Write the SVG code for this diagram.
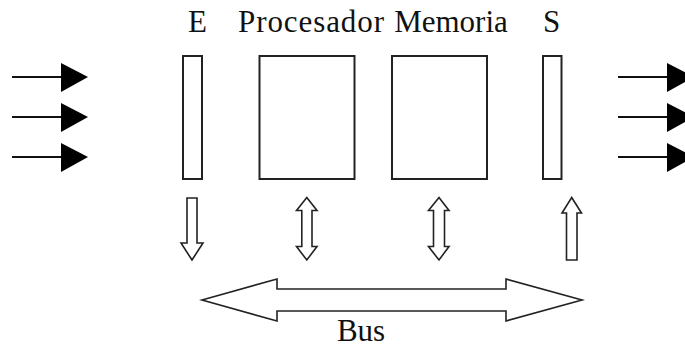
<svg xmlns="http://www.w3.org/2000/svg" width="685" height="347" viewBox="0 0 685 347">
  <style>
    .lbl { font-size: 31px; fill: #111; }
    .box { fill: #fff; stroke: #222; stroke-width: 2; }
    .hollow { fill: #fff; stroke: #222; stroke-width: 1.6; stroke-linejoin: miter; }
    .wire { stroke: #111; stroke-width: 2; fill: none; }
    .head { fill: #000; }
  </style>
  <defs>
    <!-- black input/output arrow: shaft plus filled triangular head -->
    <g id="ioArrow">
      <line class="wire" x1="0" y1="0" x2="50" y2="0"/>
      <polygon class="head" points="49,-14 76,0 49,15"/>
    </g>
  </defs>

  <rect width="685" height="347" fill="#fff"/>

  <!-- inputs on the left -->
  <g id="inputs">
    <use href="#ioArrow" x="12" y="77"/>
    <use href="#ioArrow" x="12" y="117"/>
    <use href="#ioArrow" x="12" y="157"/>
  </g>

  <!-- outputs on the right -->
  <g id="outputs">
    <use href="#ioArrow" x="618" y="77"/>
    <use href="#ioArrow" x="618" y="117"/>
    <use href="#ioArrow" x="618" y="157"/>
  </g>

  <g font-family="'Liberation Serif', 'DejaVu Serif', serif">
    <g id="entrada">
      <rect class="box" x="183" y="56" width="19" height="123"/>
      <text class="lbl" x="188" y="32">E</text>
    </g>

    <g id="procesador">
      <rect class="box" x="259.5" y="56" width="95" height="123"/>
      <text class="lbl" x="238" y="32" textLength="146" lengthAdjust="spacing">Procesador</text>
    </g>

    <g id="memoria">
      <rect class="box" x="392" y="56" width="95" height="123"/>
      <text class="lbl" x="451" y="32" text-anchor="middle">Memoria</text>
    </g>

    <g id="salida">
      <rect class="box" x="543" y="56" width="18.5" height="123"/>
      <text class="lbl" x="543" y="32">S</text>
    </g>

    <g id="bus">
      <polygon class="hollow" points="202,300 277,279 277,289 506,289 506,279 582,300 506,321 506,311 277,311 277,321"/>
      <text class="lbl" x="361" y="341" text-anchor="middle">Bus</text>
    </g>
  </g>

  <!-- hollow connectors between the units and the bus -->
  <g id="connectors">
    <polygon class="hollow" points="187,198 197,198 197,243 203,243 192,260 181,243 187,243"/>
    <polygon class="hollow" points="306.8,197.5 317,210.5 312,210.5 312,246.5 317,246.5 306.8,260 296.5,246.5 301.8,246.5 301.8,210.5 296.5,210.5"/>
    <polygon class="hollow" points="439,197.5 449,210.5 444.5,210.5 444.5,246.5 449,246.5 439,260 428.5,246.5 433.5,246.5 433.5,210.5 428.5,210.5"/>
    <polygon class="hollow" points="571.7,197.5 581.5,213 577,213 577,260 566.5,260 566.5,213 562,213"/>
  </g>
</svg>
